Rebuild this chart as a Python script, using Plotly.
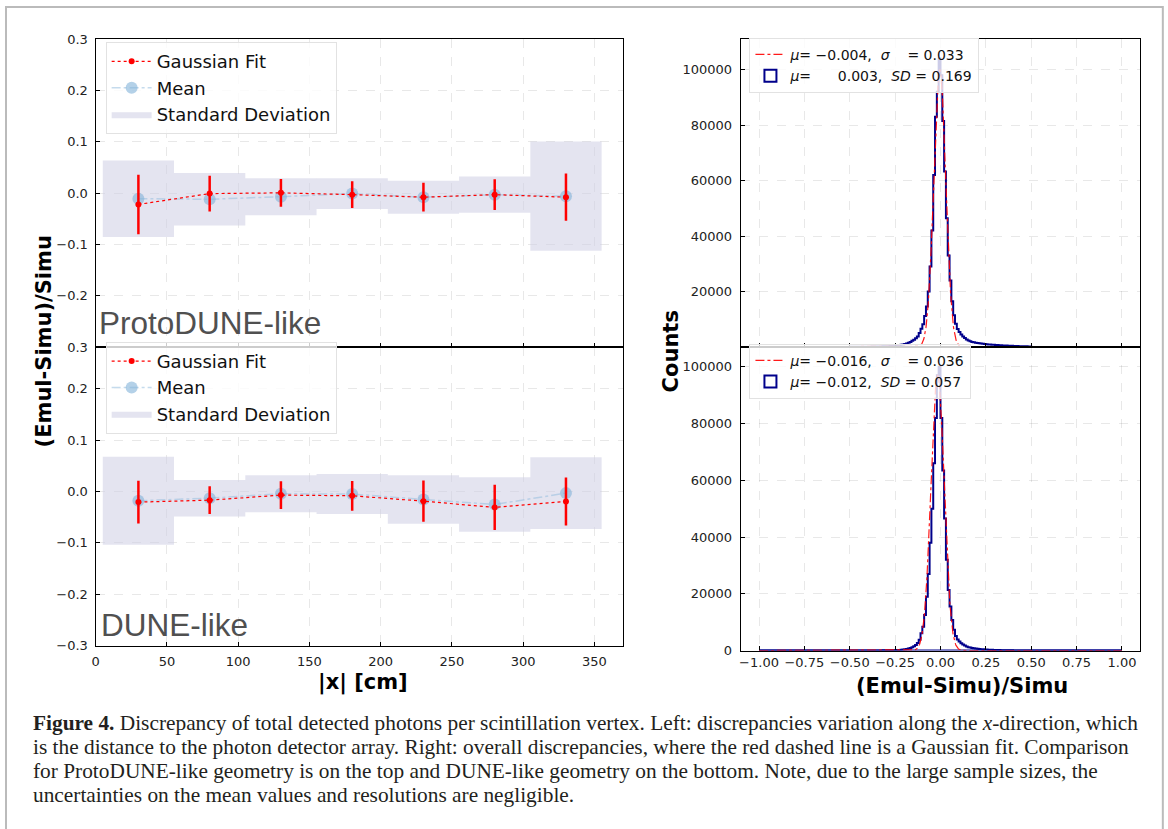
import numpy as np
import plotly.graph_objects as go

W, H = 1168, 829

# ---------------- Left panels: discrepancy vs |x| ----------------
x_bin_edges = [5, 55, 105, 155, 205, 255, 305, 355]
x_ticks_left = [0, 50, 100, 150, 200, 250, 300, 350]

proto_mean = [-0.011, -0.012, -0.007, -0.001, -0.008, -0.003, -0.006]
proto_sd = [0.0745, 0.051, 0.036, 0.030, 0.032, 0.0355, 0.1065]
proto_fit_mu = [-0.022, -0.001, 0.0005, -0.003, -0.008, -0.003, -0.008]
proto_fit_sigma = [0.058, 0.035, 0.027, 0.026, 0.028, 0.030, 0.046]

dune_mean = [-0.018, -0.013, -0.0045, -0.005, -0.0156, -0.0253, -0.0032]
dune_sd = [0.0856, 0.0355, 0.036, 0.039, 0.047, 0.053, 0.070]
dune_fit_mu = [-0.0207, -0.0169, -0.0071, -0.0084, -0.0188, -0.0311, -0.0194]
dune_fit_sigma = [0.0415, 0.027, 0.027, 0.029, 0.040, 0.044, 0.0467]

# ---------------- Right panels: histograms ----------------
hist_lo, hist_hi, hist_bw = -1.0, 1.0, 0.01
# counts for bins [-0.50, 0.00) (50 bins) and [0.00, 0.50) (50 bins); zero elsewhere
proto_counts_neg = [40, 45, 50, 55, 60, 66, 72, 80, 88, 96,
                    105, 115, 126, 138, 151, 165, 180, 197, 215, 232,
                    250, 280, 320, 370, 430, 500, 590, 680, 780, 900,
                    1050, 1250, 1500, 1800, 2200, 2600, 3100, 3800, 5000, 6600,
                    8200, 11200, 14600, 20000, 29000, 42000, 62000, 83000, 92000, 104000]
proto_counts_pos = [98000, 81500, 63300, 46400, 33000, 24000, 16500, 11400, 8400, 6500,
                    5400, 4500, 3800, 3200, 2700, 2350, 2050, 1800, 1650, 1500,
                    1400, 1300, 1200, 1120, 1050, 980, 920, 860, 800, 760,
                    720, 680, 640, 600, 560, 520, 480, 450, 420, 390,
                    360, 335, 310, 290, 270, 250, 232, 215, 200, 185]
dune_counts_neg = [12, 13, 14, 15, 17, 19, 21, 23, 25, 28,
                   31, 34, 38, 42, 46, 51, 56, 61, 67, 72,
                   75, 85, 97, 110, 125, 145, 185, 230, 290, 360,
                   450, 560, 700, 900, 1170, 1500, 2000, 2700, 3800, 6100,
                   8400, 12500, 19000, 27000, 38000, 50000, 66000, 82000, 97000, 100000]
dune_counts_pos = [82000, 63500, 46500, 32000, 21300, 15500, 10800, 7300, 5150, 3900,
                   3200, 2600, 2100, 1750, 1450, 1200, 1050, 900, 800, 700,
                   620, 560, 500, 450, 400, 360, 320, 290, 260, 230,
                   210, 190, 170, 150, 130, 115, 100, 90, 80, 70,
                   60, 55, 50, 45, 40, 35, 30, 26, 22, 18]

proto_fit = {"mu": -0.004, "sigma": 0.033, "amp": 100000}
dune_fit = {"mu": -0.016, "sigma": 0.036, "amp": 97000}

proto_labels = ["<i>μ</i>= −0.004,  <i>σ</i>    = 0.033",
                "<i>μ</i>=      0.003,  <i>SD</i> = 0.169"]
dune_labels = ["<i>μ</i>= −0.016,  <i>σ</i>    = 0.036",
               "<i>μ</i>= −0.012,  <i>SD</i> = 0.057"]

x_ticks_right = [-1.0, -0.75, -0.5, -0.25, 0.0, 0.25, 0.5, 0.75, 1.0]
count_ticks = [0, 20000, 40000, 60000, 80000, 100000]

caption_lines = [
    "<b>Figure 4.</b> Discrepancy of total detected photons per scintillation vertex. "
    "Left: discrepancies variation along the <i>x</i>-direction, which",
    "is the distance to the photon detector array. Right: overall discrepancies, "
    "where the red dashed line is a Gaussian fit. Comparison",
    "for ProtoDUNE-like geometry is on the top and DUNE-like geometry on the bottom. "
    "Note, due to the large sample sizes, the",
    "uncertainties on the mean values and resolutions are negligible.",
]

# ---------------- helpers (page pixel -> paper fraction) ----------------
SX, OX = 0.995, 6.0
SY, OY = 0.9835, 6.1

def px(xp):
    return ((xp - OX) / SX) / W

def py(yp):
    return 1 - ((yp - OY) / SY) / H

def nb(s):
    return s.replace(" ", "\u00a0")

centers = [(x_bin_edges[i] + x_bin_edges[i + 1]) / 2 for i in range(len(x_bin_edges) - 1)]

def box_poly(edges, mean, sd):
    xs, ys = [], []
    for i in range(len(mean)):
        lo, hi = mean[i] - sd[i], mean[i] + sd[i]
        xs += [edges[i], edges[i + 1], edges[i + 1], edges[i], edges[i], None]
        ys += [lo, lo, hi, hi, lo, None]
    return xs, ys

RED = "#ff0000"
NAVY = "#00008b"
fig = go.Figure()

def add_left(xa, ya, leg, mean, sd, fmu, fsig):
    bx, by = box_poly(x_bin_edges, mean, sd)
    fig.add_trace(go.Scatter(x=bx, y=by, mode="lines", fill="toself",
                             fillcolor="rgba(205,205,228,0.55)", line=dict(width=0),
                             name="Standard Deviation", legend=leg, legendrank=3,
                             legendgroup=leg + "c", xaxis=xa, yaxis=ya, hoverinfo="skip"))
    fig.add_trace(go.Scatter(x=centers, y=mean, mode="lines+markers",
                             line=dict(color="rgba(150,190,222,0.55)", dash="dashdot", width=1.5),
                             marker=dict(color="rgba(130,178,216,0.6)", size=12),
                             name="Mean", legend=leg, legendrank=2, legendgroup=leg + "b",
                             xaxis=xa, yaxis=ya))
    fig.add_trace(go.Scatter(x=centers, y=fmu, mode="lines+markers",
                             line=dict(color=RED, dash="dot", width=1.2),
                             marker=dict(color=RED, size=6),
                             error_y=dict(type="data", array=fsig, color=RED, thickness=2.5, width=0),
                             name="Gaussian Fit", legend=leg, legendrank=1, legendgroup=leg + "a",
                             xaxis=xa, yaxis=ya))

add_left("x", "y", "legend", proto_mean, proto_sd, proto_fit_mu, proto_fit_sigma)
add_left("x2", "y2", "legend2", dune_mean, dune_sd, dune_fit_mu, dune_fit_sigma)

nbins = int(round((hist_hi - hist_lo) / hist_bw))
edges = np.round(np.linspace(hist_lo, hist_hi, nbins + 1), 4)
xfine = np.linspace(hist_lo, hist_hi, 1601)

def add_right(xa, ya, leg, neg, pos, fit, labels):
    pad = (nbins - len(neg) - len(pos)) // 2
    counts = [0] * pad + list(neg) + list(pos) + [0] * pad
    gy = fit["amp"] * np.exp(-0.5 * ((xfine - fit["mu"]) / fit["sigma"]) ** 2)
    fig.add_trace(go.Scatter(x=xfine, y=gy, mode="lines",
                             line=dict(color="rgba(255,0,0,0.9)", dash="dashdot", width=1.2),
                             name=nb(labels[0]), legend=leg, legendrank=1, legendgroup=leg + "a",
                             xaxis=xa, yaxis=ya))
    # step outline of the histogram, as a path in data coordinates of this subplot
    parts = [f"M{edges[0]:.4f},0"]
    for i, c in enumerate(counts):
        parts.append(f"L{edges[i]:.4f},{c}")
        parts.append(f"L{edges[i + 1]:.4f},{c}")
    parts.append(f"L{edges[-1]:.4f},0")
    fig.add_shape(type="path", path=" ".join(parts), xref=xa, yref=ya,
                  line=dict(color=NAVY, width=2), fillcolor="rgba(255,255,255,0)",
                  layer="below", showlegend=False)
    # histogram base (range of the histogram), carries the rectangular legend patch
    fig.add_shape(type="rect", x0=hist_lo, x1=hist_hi, y0=0, y1=0, xref=xa, yref=ya,
                  line=dict(color=NAVY, width=2), fillcolor="rgba(255,255,255,0)",
                  layer="below", showlegend=True, legend=leg, legendrank=2,
                  name=nb(labels[1]))

add_right("x3", "y3", "legend3", proto_counts_neg, proto_counts_pos, proto_fit, proto_labels)
add_right("x4", "y4", "legend4", dune_counts_neg, dune_counts_pos, dune_fit, dune_labels)

# ---------------- layout ----------------
LX = [px(97.5), px(624)]
RX = [px(741.7), px(1140.3)]
grid = dict(showgrid=True, gridcolor="rgba(0,0,0,0.09)", griddash="dash", gridwidth=1,
            zeroline=False, showline=True, linecolor="black", linewidth=1.3, mirror=True,
            ticks="inside", ticklen=4, tickwidth=1, tickcolor="black",
            tickfont=dict(family="DejaVu Sans", size=13, color="#222"))
gxl = dict(grid, ticklabelstandoff=4)
gxr = dict(grid, ticklabelstandoff=0)
gyl = dict(grid, ticklabelstandoff=4)
gyr = dict(grid, ticklabelstandoff=5)

lt = ["−0.3", "−0.2", "−0.1", "0.0", "0.1", "0.2", "0.3"]
fig.update_layout(
    width=W, height=H, autosize=False,
    margin=dict(l=0, r=0, t=0, b=0),
    paper_bgcolor="white", plot_bgcolor="white",
    font=dict(family="DejaVu Sans", size=13, color="#222"),
    xaxis=dict(domain=LX, anchor="y", range=[0, 370], tickvals=x_ticks_left,
               showticklabels=False, **gxl),
    yaxis=dict(domain=[py(346.7), py(38.3)], anchor="x", range=[-0.3, 0.3],
               tickvals=[-0.2, -0.1, 0.0, 0.1, 0.2, 0.3], ticktext=lt[1:], **gyl),
    xaxis2=dict(domain=LX, anchor="y2", range=[0, 370], tickvals=x_ticks_left,
                ticktext=[str(v) for v in x_ticks_left], **gxl),
    yaxis2=dict(domain=[py(645.8), py(346.7)], anchor="x2", range=[-0.3, 0.281],
                tickvals=[-0.3, -0.2, -0.1, 0.0, 0.1, 0.2, 0.281], ticktext=lt, **gyl),
    xaxis3=dict(domain=RX, anchor="y3", range=[-1.1, 1.1], tickvals=x_ticks_right,
                showticklabels=False, **gxr),
    yaxis3=dict(domain=[py(346.6), py(38.3)], anchor="x3", range=[0, 111000],
                tickvals=count_ticks[1:], ticktext=[str(v) for v in count_ticks[1:]], **gyr),
    xaxis4=dict(domain=RX, anchor="y4", range=[-1.1, 1.1], tickvals=x_ticks_right,
                ticktext=[("−" if v < 0 else "") + f"{abs(v):.2f}" for v in x_ticks_right], **gxr),
    yaxis4=dict(domain=[py(650.7), py(346.6)], anchor="x4", range=[0, 107000],
                tickvals=count_ticks, ticktext=[str(v) for v in count_ticks], **gyr),
)

leg_left = dict(xanchor="left", yanchor="top", bgcolor="rgba(255,255,255,0.8)",
                bordercolor="#e2e2e2", borderwidth=1, tracegroupgap=0, itemwidth=40,
                font=dict(family="DejaVu Sans", size=18, color="#111"))
leg_right = dict(xanchor="left", yanchor="top", bgcolor="rgba(255,255,255,0.8)",
                 bordercolor="#e2e2e2", borderwidth=1, tracegroupgap=0, itemwidth=30,
                 font=dict(family="DejaVu Sans", size=14, color="#111"))
fig.update_layout(
    legend=dict(x=102 / W, y=1 - 35.8 / H, **leg_left),
    legend2=dict(x=102 / W, y=1 - 341 / H, **leg_left),
    legend3=dict(x=748 / W, y=1 - 31.4 / H, **leg_right),
    legend4=dict(x=748 / W, y=1 - 343 / H, **leg_right),
)

ann = [
    dict(text="ProtoDUNE-like", x=px(99), y=py(323), xanchor="left", yanchor="middle",
         font=dict(family="Liberation Sans", size=31.5, color="#505050")),
    dict(text="DUNE-like", x=px(101), y=py(625), xanchor="left", yanchor="middle",
         font=dict(family="Liberation Sans", size=31.5, color="#505050")),
    dict(text="<b>(Emul-Simu)/Simu</b>", x=px(46), y=py(341), textangle=-90,
         xanchor="center", yanchor="middle",
         font=dict(family="DejaVu Sans", size=21, color="black")),
    dict(text="<b>|x| [cm]</b>", x=px(364), y=py(683), xanchor="center", yanchor="middle",
         font=dict(family="DejaVu Sans", size=21, color="black")),
    dict(text="<b>Counts</b>", x=px(672), y=py(351), textangle=-90,
         xanchor="center", yanchor="middle",
         font=dict(family="DejaVu Sans", size=21, color="black")),
    dict(text="<b>(Emul-Simu)/Simu</b>", x=px(962), y=py(686), xanchor="center", yanchor="middle",
         font=dict(family="DejaVu Sans", size=21, color="black")),
]
for i, line in enumerate(caption_lines):
    ann.append(dict(text=line, x=px(33), y=py(723 + 24 * i), xanchor="left", yanchor="middle",
                    align="left", font=dict(family="Liberation Serif", size=21.35, color="#231f20")))
for a in ann:
    a.update(xref="paper", yref="paper", showarrow=False)
fig.update_layout(annotations=ann)

fig.add_shape(type="rect", xref="paper", yref="paper",
              x0=px(8), x1=px(1163), y0=-0.05, y1=py(6),
              line=dict(color="#bbbbbb", width=2), layer="below")

post = ("document.documentElement.style.margin='0px';"
        "document.body.style.margin='0px';document.body.style.overflow='hidden';"
        "var gd=document.getElementById('{plot_id}');"
        "gd.style.position='absolute';gd.style.left='0px';gd.style.top='0px';")
fig.write_html("out.html", post_script=post, config={"displayModeBar": False})
